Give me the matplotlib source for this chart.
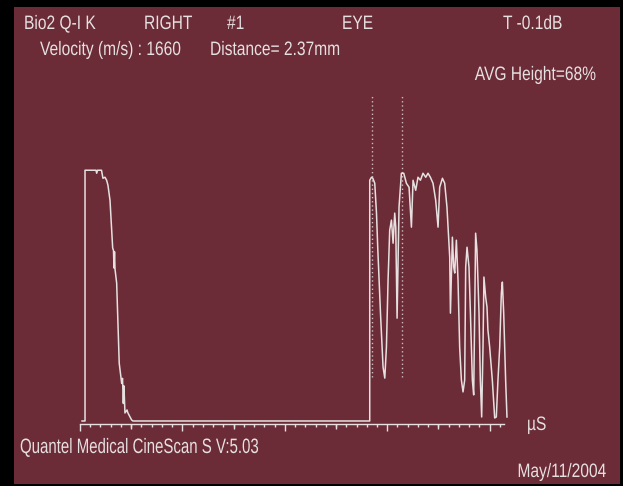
import numpy as np
import matplotlib
matplotlib.use("Agg")
import matplotlib.pyplot as plt
from matplotlib.patheffects import AbstractPathEffect
from matplotlib.transforms import Affine2D

# A-scan echo: initial probe echo, then the tissue echoes (time in µs, amplitude in %)
probe_us = [0.20, 0.49, 0.49, 1.56, 1.63, 1.71, 2.10, 2.24, 2.44, 2.60, 2.73, 2.93, 3.19, 3.27,
            3.32, 3.37, 3.42, 3.58, 3.83, 4.07, 4.15, 4.23, 4.29, 4.39, 4.59, 4.68, 5.04, 5.17]
probe_amp = [0, 0, 100, 100, 98.8, 100, 100, 96.8, 97.2, 96.0, 94.0, 88.0, 69.0, 68.0,
             61.0, 67.5, 60.5, 55.0, 23.0, 15.0, 17.0, 7.0, 14.0, 3.2, 4.4, 3.2, 0.4, 0]

tissue_us = [28.29, 28.29, 28.46, 28.59, 28.78, 28.95, 29.07, 29.34, 29.59, 29.76, 29.92, 30.08,
             30.24, 30.41, 30.57, 30.73, 30.83, 30.96, 31.15, 31.38, 31.61, 31.87, 32.13, 32.36,
             32.52, 32.78, 33.00, 33.24, 33.49, 33.76, 33.98, 34.21, 34.47, 34.73, 34.96, 35.12,
             35.39, 35.61, 35.83, 36.10, 36.17, 36.36, 36.49, 36.59, 36.75, 36.91, 37.07, 37.24,
             37.40, 37.56, 37.66, 37.79, 37.98, 38.12, 38.31, 38.44, 38.54, 38.63, 38.76, 38.96,
             39.09, 39.22, 39.35, 39.44, 39.61, 39.74, 39.83, 40.00, 40.26, 40.49, 40.65, 40.81,
             40.98, 41.14, 41.24, 41.37, 41.56, 41.69]
tissue_amp = [0, 96.0, 97.2, 96.8, 94.8, 82.9, 69.3, 43.0, 21.5, 17.1, 29.5, 56.2,
              76.1, 80.1, 70.9, 82.9, 77.3, 41.0, 85.3, 98.8, 98.8, 94.8, 93.2, 77.3,
              96.0, 92.0, 97.2, 96.0, 98.8, 97.2, 98.8, 97.2, 94.8, 88.0, 77.3, 93.2,
              96.8, 94.8, 85.3, 65.3, 43.0, 73.3, 61.4, 59.0, 72.1, 56.2, 29.5, 16.3,
              11.6, 16.3, 61.4, 69.3, 61.4, 43.0, 16.3, 10.4, 43.0, 74.9, 68.1, 43.0,
              16.3, 1.6, 29.5, 57.4, 49.4, 45.4, 36.3, 29.5, 16.3, 1.2, 1.6, 16.3,
              29.5, 51.0, 55.4, 43.0, 16.3, 1.6]

# measurement gates (dotted)
gate_us = [28.56, 31.48]
gate_range = (17.5, 129.9)

header_row1 = ["Bio2 Q-I K", "RIGHT", "#1", "EYE", "T -0.1dB"]
header_row2 = ["Velocity (m/s) : 1660", "Distance= 2.37mm"]
avg_label = "AVG Height=68%"
unit_label = "µS"
footer_left = "Quantel Medical CineScan S V:5.03"
footer_right = "May/11/2004"

W, H = 623, 486
BG = "#6b2c37"
FG = "#e6e0e0"
plt.rcParams["font.family"] = ["Liberation Sans", "DejaVu Sans"]


class Squeeze(AbstractPathEffect):
    """Draw text horizontally narrowed (the scanner uses a narrow font)."""

    def __init__(self, sx, anchor="left"):
        super().__init__()
        self.sx = sx
        self.anchor = anchor

    def draw_path(self, renderer, gc, tpath, affine, rgbFace=None):
        x0 = tpath.get_extents().x1 if self.anchor == "right" else 0
        squeeze = Affine2D().translate(-x0, 0).scale(self.sx, 1).translate(x0, 0)
        renderer.draw_path(gc, tpath, squeeze + affine, rgbFace)


def fx(x):
    return x / W


def fy(y):
    return 1 - y / H


def label(x, y, s, size=14, sx=0.8, ha="left"):
    fig.text(fx(x), fy(y), s, color=FG, fontsize=size, va="baseline", ha=ha,
             path_effects=[Squeeze(sx, ha)])


fig = plt.figure(figsize=(W / 100, H / 100), dpi=100, facecolor="black")

# maroon screen panel
panel = fig.add_axes([fx(14), fy(484), fx(620) - fx(14), fy(7) - fy(484)])
panel.set_facecolor(BG)
panel.set_xticks([])
panel.set_yticks([])
for s in panel.spines.values():
    s.set_visible(False)

# trace axes: bottom spine is the time axis
ax = fig.add_axes([fx(80), fy(424), fx(504) - fx(80), fy(95) - fy(424)])
ax.patch.set_alpha(0)
ax.set_xlim(0, 41.4)
ax.set_ylim(-1.2, 130)
for side in ["top", "right", "left"]:
    ax.spines[side].set_visible(False)
ax.spines["bottom"].set_color(FG)
ax.spines["bottom"].set_linewidth(1.0)
ax.set_yticks([])
ax.set_xticks(np.arange(0, 41, 10))
ax.set_xticks(np.arange(0, 41.4, 1), minor=True)
ax.tick_params(axis="x", which="major", length=5, width=1, color=FG, labelbottom=False)
ax.tick_params(axis="x", which="minor", length=2, width=1, color=FG)
sec = ax.secondary_xaxis("bottom")
sec.set_xticks(np.arange(5, 41, 10))
sec.tick_params(length=3.5, width=1, color=FG, labelbottom=False)
sec.spines["bottom"].set_visible(False)

us = np.concatenate([probe_us, tissue_us])
amp = np.concatenate([probe_amp, tissue_amp])
ax.plot(us, amp, color=FG, lw=1.1, clip_on=False)
ax.vlines(gate_us, *gate_range, colors=FG, lw=1.0, linestyles=(0, (1, 2)), alpha=0.8)

row1_x = [24, 144, 227, 342, 503]
for s, x in zip(header_row1, row1_x):
    label(x, 29, s)
row2_x = [40, 210]
for s, x in zip(header_row2, row2_x):
    label(x, 55, s)
label(597, 80, avg_label, ha="right")
label(527, 430, unit_label)
label(20, 453, footer_left, size=15, sx=0.72)
label(607, 477, footer_right, ha="right")

fig.savefig("out.png", dpi=100, facecolor="black")
